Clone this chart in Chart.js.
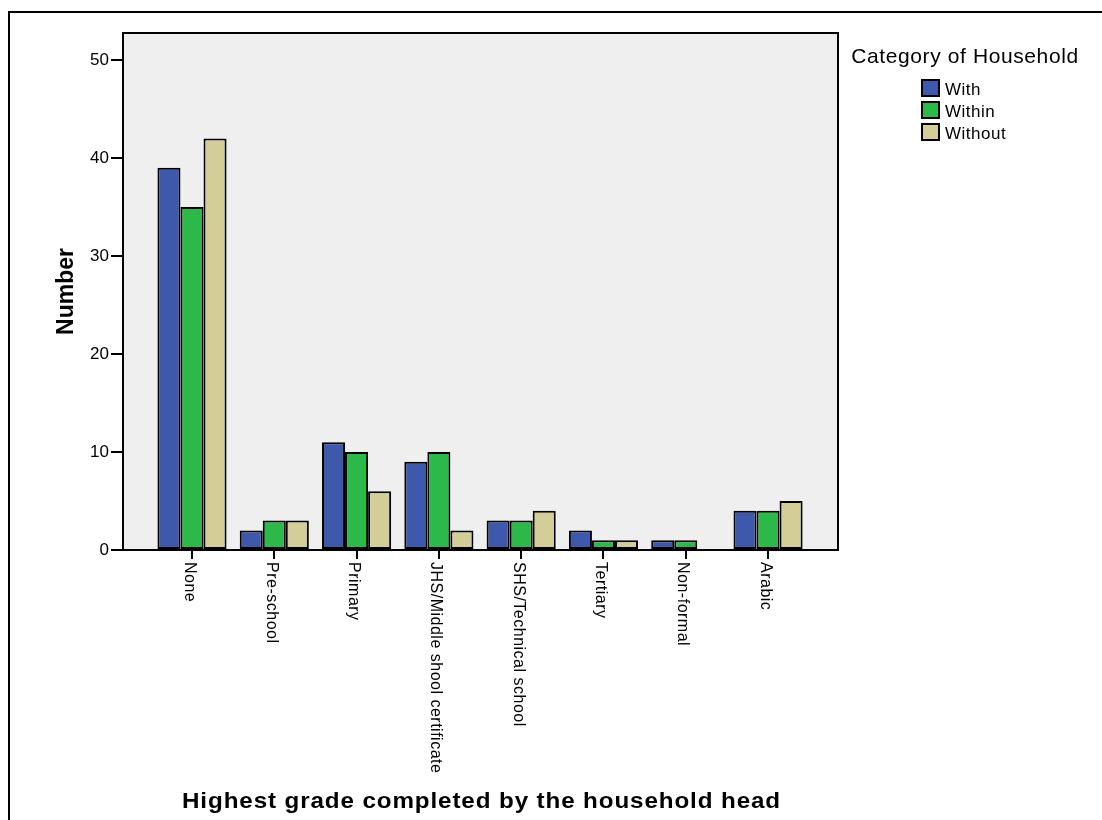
<!DOCTYPE html>
<html>
<head>
<meta charset="utf-8">
<script src="https://cdn.jsdelivr.net/npm/chart.js@4.4.1/dist/chart.umd.min.js"></script>
<style>
  html, body { margin: 0; padding: 0; background: #ffffff; }
  #wrap { width: 1102px; height: 820px; position: relative; }
</style>
</head>
<body>
<div id="wrap"><canvas id="c" width="1102" height="820"></canvas></div>
<script>
// ---- data ----
const categories = ['None', 'Pre-school', 'Primary', 'JHS/Middle shool certificate', 'SHS/Technical school', 'Tertiary', 'Non-formal', 'Arabic'];
const seriesNames = ['With', 'Within', 'Without'];
const withValues = [39, 2, 11, 9, 3, 2, 1, 4];
const withinValues = [35, 3, 10, 10, 3, 1, 1, 4];
const withoutValues = [42, 3, 6, 2, 4, 1, 0, 5];
const yTickValues = [0, 10, 20, 30, 40, 50];
const legendTitle = 'Category of Household';
const xTitle = 'Highest grade completed by the household head';
const yTitle = 'Number';

const colors = ['#3e58ac', '#2db84a', '#d3ce97'];
const FONT = "'Liberation Sans', Arial, Helvetica, sans-serif";

function pts(vals) { return vals.map((v, i) => ({ x: i, y: v })); }

const framePlugin = {
  id: 'frame',
  beforeDraw(chart) {
    const { ctx, chartArea: a } = chart;
    ctx.save();
    ctx.fillStyle = '#efefef';
    ctx.fillRect(a.left, a.top, a.right - a.left, a.bottom - a.top);
    ctx.restore();
  },
  afterDatasetsDraw(chart) {
    const { ctx, chartArea: a } = chart;
    ctx.save();
    ctx.strokeStyle = '#000';
    ctx.lineWidth = 2;
    ctx.strokeRect(a.left, a.top, a.right - a.left, a.bottom - a.top);
    ctx.restore();
  },
  afterDraw(chart) {
    const { ctx } = chart;
    const xs = chart.scales.x;
    const a = chart.chartArea;
    ctx.save();
    // outer figure frame (left and top edges)
    ctx.fillStyle = '#000';
    ctx.fillRect(8, 11, 1094, 2);
    ctx.fillRect(8, 11, 2, 809);

    // x category labels, rotated clockwise
    ctx.font = '16px ' + FONT;
    ctx.fillStyle = '#000';
    ctx.textAlign = 'left';
    ctx.textBaseline = 'top';
    try { ctx.letterSpacing = '0.5px'; } catch (e) {}
    categories.forEach((c, i) => {
      const px = xs.getPixelForValue(i);
      ctx.save();
      ctx.translate(px + 5, a.bottom + 12);
      ctx.rotate(Math.PI / 2);
      ctx.fillText(c, 0, 0);
      ctx.restore();
    });

    // x axis title (slightly widened glyphs like the original)
    ctx.save();
    ctx.font = 'bold 22px ' + FONT;
    ctx.textAlign = 'center';
    ctx.textBaseline = 'alphabetic';
    try { ctx.letterSpacing = '0.8px'; } catch (e) {}
    const cx = (a.left + a.right) / 2 + 1;
    ctx.translate(cx, 808);
    ctx.scale(1.10, 1);
    ctx.fillText(xTitle, 0, 0);
    ctx.restore();

    // legend
    ctx.font = '21px ' + FONT;
    ctx.textAlign = 'center';
    ctx.textBaseline = 'alphabetic';
    try { ctx.letterSpacing = '0.6px'; } catch (e) {}
    ctx.fillText(legendTitle, 965, 63);
    ctx.font = '17px ' + FONT;
    ctx.textAlign = 'left';
    try { ctx.letterSpacing = '0.5px'; } catch (e) {}
    chart.data.datasets.forEach((ds, i) => {
      const y = 79 + i * 22;
      ctx.fillStyle = ds.backgroundColor;
      ctx.fillRect(922, y + 1, 17, 16);
      ctx.strokeStyle = '#000';
      ctx.lineWidth = 2;
      ctx.strokeRect(922, y + 1, 17, 16);
      ctx.fillStyle = '#000';
      ctx.fillText(ds.label, 945, y + 16);
    });
    ctx.restore();
  }
};

new Chart(document.getElementById('c'), {
  type: 'bar',
  data: {
    datasets: [
      { label: seriesNames[0], data: pts(withValues), backgroundColor: colors[0] },
      { label: seriesNames[1], data: pts(withinValues), backgroundColor: colors[1] },
      { label: seriesNames[2], data: pts(withoutValues), backgroundColor: colors[2] }
    ]
  },
  options: {
    responsive: false,
    animation: false,
    devicePixelRatio: 1,
    layout: { padding: { top: 33, right: 264, bottom: 0, left: 0 } },
    datasets: {
      bar: {
        categoryPercentage: 0.84,
        barPercentage: 1.0,
        borderColor: '#000',
        borderWidth: (ctx) => (ctx.raw && ctx.raw.y === 0 ? 0 : 2),
        borderSkipped: false
      }
    },
    plugins: {
      legend: { display: false },
      tooltip: { enabled: false },
      title: { display: false }
    },
    scales: {
      x: {
        type: 'linear',
        min: -0.8385,
        max: 7.85,
        offset: false,
        afterBuildTicks: (s) => { s.ticks = categories.map((c, i) => ({ value: i })); },
        afterFit: (s) => { s.height = 270; },
        grid: { display: true, offset: false, drawOnChartArea: false, drawTicks: true, tickLength: 9, color: '#000', lineWidth: 2 },
        border: { display: true, color: '#000', width: 2 },
        ticks: { display: false, stepSize: 1 },
        title: { display: false, text: xTitle }
      },
      y: {
        min: 0,
        max: 52.76,
        afterBuildTicks: (s) => { s.ticks = yTickValues.map(v => ({ value: v })); },
        afterFit: (s) => { s.width = 123; },
        grid: { display: true, drawOnChartArea: false, drawTicks: true, tickLength: 12, color: '#000', lineWidth: 2 },
        border: { display: true, color: '#000', width: 2 },
        ticks: { color: '#000', padding: 2, font: { family: FONT, size: 17 } },
        title: {
          display: true, text: yTitle, color: '#000',
          font: { family: FONT, size: 23, weight: 'bold' },
          padding: { top: 53, bottom: 0 }
        }
      }
    }
  },
  plugins: [framePlugin]
});
</script>
</body>
</html>
